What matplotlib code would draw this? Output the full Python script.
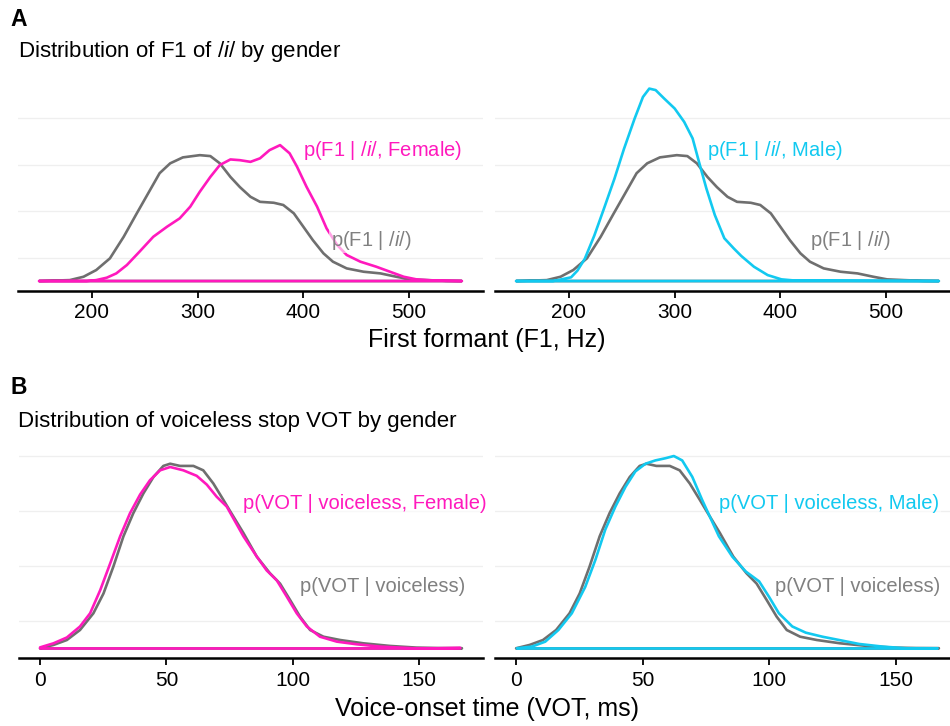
import numpy as np
import matplotlib.pyplot as plt

plt.rcParams["font.family"] = ["Liberation Sans", "DejaVu Sans"]
plt.rcParams["mathtext.fontset"] = "custom"
plt.rcParams["mathtext.rm"] = "Liberation Sans"
plt.rcParams["mathtext.it"] = "Liberation Sans:italic"

GRAY = "#6f6f6f"
PINK = "#ff19bd"
CYAN = "#12c9f0"

# densities are given x1000
f1_all_x = [150, 179, 192, 204, 217, 230, 242, 255, 264, 274, 286, 302, 312, 321, 331, 340, 350,
            359, 372, 381, 391, 400, 409, 419, 428, 441, 457, 473, 488, 501, 517, 535, 550]
f1_all_d = [0, 0.05, 0.23, 0.59, 1.22, 2.38, 3.6, 4.9, 5.8, 6.33, 6.65, 6.77, 6.72, 6.33, 5.6, 5.05,
            4.53, 4.26, 4.21, 4.09, 3.64, 2.92, 2.2, 1.49, 1.04, 0.68, 0.5, 0.41, 0.23, 0.09, 0.05,
            0.01, 0]

f1_fem_x = [150, 195, 204, 214, 223, 233, 245, 258, 271, 283, 293, 302, 312, 321, 331, 340, 350,
            359, 368, 378, 387, 394, 403, 413, 422, 432, 441, 454, 469, 482, 495, 507, 523, 550]
f1_fem_d = [0, 0, 0.05, 0.18, 0.41, 0.86, 1.58, 2.38, 2.92, 3.37, 4.0, 4.8, 5.6, 6.24, 6.54, 6.5,
            6.41, 6.6, 7.04, 7.31, 6.87, 6.15, 5.07, 4.0, 2.83, 1.94, 1.4, 1.04, 0.77, 0.5, 0.23,
            0.09, 0.03, 0]

f1_male_x = [150, 185, 192, 202, 208, 215, 224, 233, 243, 252, 262, 270, 276, 282, 290, 300, 309,
             317, 323, 330, 338, 347, 356, 363, 375, 388, 401, 413, 550]
f1_male_d = [0, 0, 0.08, 0.2, 0.56, 1.2, 2.45, 3.88, 5.5, 7.1, 8.72, 9.9, 10.35, 10.27, 9.82, 9.28,
             8.56, 7.67, 6.41, 4.98, 3.55, 2.3, 1.75, 1.35, 0.77, 0.32, 0.09, 0.03, 0]

vot_all_x = [0, 5.3, 10.6, 15.8, 21.1, 25.1, 29, 33, 36.9, 40.9, 44.9, 48.8, 51.5, 55.4, 60.7,
             64.6, 68.6, 72.6, 75.2, 80.5, 85.8, 91, 95, 99, 102.9, 106.9, 112.2, 118.8, 128,
             138.6, 149, 158, 167]
vot_all_d = [0.02, 0.32, 0.77, 1.68, 3.2, 5.0, 7.44, 10.2, 12.3, 14.1, 15.6, 16.6, 16.8, 16.6,
             16.6, 16.2, 15.0, 13.5, 12.5, 10.5, 8.35, 6.84, 5.9, 4.4, 2.9, 1.68, 1.07, 0.77, 0.47,
             0.23, 0.08, 0.04, 0.03]

vot_fem_x = [0, 5.3, 10.6, 15.8, 19.8, 23.8, 27.7, 31.7, 35.6, 39.6, 43.5, 47.5, 51.5, 56.7, 62,
             66, 69.9, 73.9, 80.5, 85.8, 89.7, 93.7, 97.7, 101.6, 105.6, 110.8, 117.5, 125.4,
             134.6, 147.8, 157, 166.3]
vot_fem_d = [0.1, 0.47, 1.0, 2.0, 3.2, 5.3, 7.7, 10.2, 12.3, 14.0, 15.3, 16.2, 16.5, 16.2, 15.7,
             14.9, 13.8, 12.9, 10.2, 8.35, 7.1, 6.2, 4.7, 3.2, 2.0, 1.07, 0.62, 0.38, 0.17, 0.02,
             0.02, 0.07]

vot_male_x = [0.3, 6.2, 11.5, 16.7, 22, 27.3, 31.3, 35.2, 39.2, 43.2, 47.1, 51.1, 55, 59, 62.3,
              65.6, 69.6, 73.5, 80.1, 85.4, 90.7, 96, 99.9, 103.8, 109.1, 114.4, 121, 127.6,
              135.5, 144.8, 154, 166.5]
vot_male_d = [0.02, 0.17, 0.62, 1.68, 3.2, 5.6, 8.05, 10.8, 12.9, 14.7, 16.1, 16.8, 17.1, 17.3,
              17.5, 17.1, 15.6, 13.5, 10.2, 8.35, 7.0, 6.1, 4.7, 3.2, 2.0, 1.44, 1.07, 0.77, 0.41,
              0.17, 0.02, 0.02]

f1_ticks = [200, 300, 400, 500]
vot_ticks = [0, 50, 100, 150]

W, H = 950, 726
fig = plt.figure(figsize=(W / 100, H / 100), dpi=100)


def px_axes(x0, x1, ytop, ybot):
    return fig.add_axes([x0 / W, 1 - ybot / H, (x1 - x0) / W, (ybot - ytop) / H])


def density(ax, x, d, color):
    xs = [x[0]] + list(x) + [x[-1]]
    ds = [0] + [v / 1000 for v in d] + [0]
    ax.fill(xs, ds, facecolor="none", edgecolor=color, lw=1.9, joinstyle="round")


def style(ax, xlim, ylim, ticks, grid):
    ax.set_xlim(*xlim)
    ax.set_ylim(*ylim)
    ax.set_xticks(ticks)
    ax.set_yticks(grid)
    ax.tick_params(axis="y", length=0, labelleft=False)
    ax.tick_params(axis="x", length=5, width=1.3, labelsize=15, pad=4, colors="black")
    for s in ["top", "right", "left"]:
        ax.spines[s].set_visible(False)
    ax.spines["bottom"].set_linewidth(1.8)
    ax.yaxis.grid(True, color="#efefef", lw=0.9)
    ax.set_axisbelow(True)


def label(ax, x, y, s, color):
    ax.text(x, y / 1000, s, color=color, fontsize=14.5, ha="left", va="center", zorder=5,
            bbox=dict(facecolor="white", edgecolor="none", alpha=0.6, pad=1))


f1_lim = (130, 570)
f1_ylim = (-0.52e-3, 10.92e-3)
f1_grid = [1.25e-3, 3.75e-3, 6.25e-3, 8.75e-3]
vot_lim = (-8.35, 175.35)
vot_ylim = (-0.875e-3, 18.375e-3)
vot_grid = [2.5e-3, 7.5e-3, 12.5e-3, 17.5e-3]

# panel A
ax1 = px_axes(18, 483, 78, 290.7)
density(ax1, f1_all_x, f1_all_d, GRAY)
density(ax1, f1_fem_x, f1_fem_d, PINK)
style(ax1, f1_lim, f1_ylim, f1_ticks, f1_grid)
label(ax1, 400, 7.0, r"p(F1 | $\mathit{/i/}$, Female)", PINK)
label(ax1, 426, 2.2, r"p(F1 | $\mathit{/i/}$)", "#808080")

ax2 = px_axes(495, 960, 78, 290.7)
density(ax2, f1_all_x, f1_all_d, GRAY)
density(ax2, f1_male_x, f1_male_d, CYAN)
style(ax2, f1_lim, f1_ylim, f1_ticks, f1_grid)
label(ax2, 331, 7.0, r"p(F1 | $\mathit{/i/}$, Male)", CYAN)
label(ax2, 428, 2.2, r"p(F1 | $\mathit{/i/}$)", "#808080")

# panel B
ax3 = px_axes(19, 483, 446.4, 658.1)
density(ax3, vot_all_x, vot_all_d, GRAY)
density(ax3, vot_fem_x, vot_fem_d, PINK)
style(ax3, vot_lim, vot_ylim, vot_ticks, vot_grid)
label(ax3, 80.2, 13.2, "p(VOT | voiceless, Female)", PINK)
label(ax3, 102.8, 5.6, "p(VOT | voiceless)", "#808080")

ax4 = px_axes(495, 960, 446.4, 658.1)
density(ax4, vot_all_x, vot_all_d, GRAY)
density(ax4, vot_male_x, vot_male_d, CYAN)
style(ax4, vot_lim, vot_ylim, vot_ticks, vot_grid)
label(ax4, 80.2, 13.2, "p(VOT | voiceless, Male)", CYAN)
label(ax4, 102.4, 5.6, "p(VOT | voiceless)", "#808080")

fig.text(10 / W, 1 - 20 / H, "A", fontsize=16.5, fontweight="bold", va="center", ha="left")
fig.text(18 / W, 1 - 52 / H, r"Distribution of F1 of $\mathit{/i/}$ by gender", fontsize=16,
         va="center", ha="left")
fig.text(487 / W, 1 - 340 / H, "First formant (F1, Hz)", fontsize=18, va="center", ha="center")

fig.text(10 / W, 1 - 388 / H, "B", fontsize=16.5, fontweight="bold", va="center", ha="left")
fig.text(18 / W, 1 - 422 / H, "Distribution of voiceless stop VOT by gender", fontsize=16,
         va="center", ha="left")
fig.text(487 / W, 1 - 709 / H, "Voice-onset time (VOT, ms)", fontsize=18, va="center", ha="center")

fig.savefig("out.png", dpi=100, facecolor="white")
